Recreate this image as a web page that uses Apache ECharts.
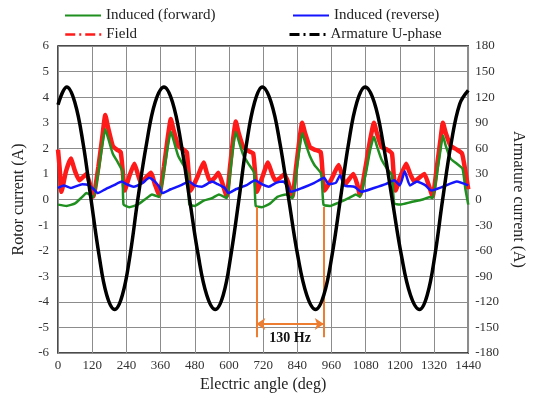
<!DOCTYPE html>
<html>
<head>
<meta charset="utf-8">
<script src="https://cdn.jsdelivr.net/npm/echarts@6/dist/echarts.min.js"></script>
<style>
  html, body { margin: 0; padding: 0; background: #fff; }
  #chart { width: 534px; height: 400px; }
</style>
</head>
<body>
<div id="chart"></div>
<script>
// [electric angle (deg), rotor current (A)]
var fieldCurrent = [
  [0,1.95],[6,1.2],[12,0.3],[28,1.1],[45,1.6],[60,1.1],[75,0.75],[100,1.0],[112,0.6],[124,0.12],[142,1.3],[155,2.4],[166,3.3],
  [176,2.8],[192,2.1],[206,1.95],[220,1.85],[228,1.0],[234,0.35],[250,0.9],[268,1.4],[280,1.0],[291,0.65],[308,0.85],[326,1.05],[340,0.6],[355,0.15],[372,1.3],[385,2.4],[396,3.15],
  [406,2.7],[422,2.1],[440,1.95],[452,1.85],[459,1.0],[466,0.35],[490,0.9],[511,1.45],[522,1.05],[534,0.7],[550,0.85],[563,1.05],[578,0.6],[592,0.12],[604,1.3],[614,2.3],[624,3.05],
  [634,2.6],[650,2.05],[668,1.9],[685,1.8],[692,1.0],[698,0.3],[718,0.9],[737,1.45],[750,1.05],[762,0.75],[780,0.85],[795,1.0],[810,0.6],[823,0.12],[836,1.3],[847,2.3],[857,3.0],
  [867,2.6],[884,2.05],[900,1.95],[922,1.85],[929,1.0],[936,0.35],[960,0.8],[985,1.35],[996,1.0],[1008,0.6],[1022,0.8],[1037,1.0],[1050,0.6],[1060,0.17],[1080,1.3],[1095,2.3],[1109,3.0],
  [1119,2.6],[1136,2.05],[1155,1.95],[1172,1.8],[1178,1.0],[1185,0.35],[1200,0.85],[1222,1.4],[1236,1.0],[1251,0.7],[1268,0.85],[1286,1.0],[1300,0.6],[1315,0.12],[1330,1.3],[1342,2.3],[1351,3.0],
  [1361,2.6],[1378,2.1],[1400,1.95],[1418,1.8],[1430,1.1],[1440,0.4]
];
var inducedForward = [
  [0,-0.2],[30,-0.25],[60,-0.15],[85,0.1],[100,0.25],[124,0.1],[142,1.1],[155,2.1],[166,2.75],
  [176,2.4],[192,1.8],[210,1.45],[226,1.1],[230,-0.2],[250,-0.3],[280,-0.2],[305,0.0],[330,0.2],[355,0.1],[372,1.1],[385,2.05],[396,2.65],
  [406,2.3],[422,1.7],[440,1.35],[456,1.0],[461,-0.2],[480,-0.25],[510,-0.05],[540,0.05],[565,0.2],[592,0.05],[604,1.0],[614,2.0],[624,2.65],
  [634,2.3],[650,1.75],[668,1.4],[688,1.05],[694,-0.25],[715,-0.3],[745,-0.15],[770,0.1],[800,0.2],[823,0.05],[836,1.0],[847,1.95],[857,2.6],
  [867,2.25],[884,1.7],[900,1.35],[924,1.0],[932,-0.2],[955,-0.25],[990,-0.1],[1020,0.05],[1045,0.2],[1060,0.1],[1080,1.0],[1095,1.9],[1109,2.45],
  [1119,2.1],[1136,1.55],[1155,1.2],[1172,0.95],[1180,-0.15],[1200,-0.2],[1240,-0.1],[1280,0.0],[1305,0.1],[1315,0.05],[1330,1.0],[1342,1.9],[1351,2.5],
  [1361,2.1],[1378,1.6],[1400,1.4],[1420,1.2],[1430,0.4],[1440,-0.2]
];
var inducedReverse = [
  [0,0.45],[20,0.55],[45,0.45],[85,0.6],[110,0.55],[125,0.4],[140,0.25],[166,0.4],[195,0.55],[224,0.7],[240,0.6],[265,0.5],[297,0.65],[320,0.85],[340,0.7],[355,0.5],[366,0.25],
  [396,0.4],[430,0.55],[460,0.7],[480,0.55],[505,0.5],[540,0.7],[560,0.6],[585,0.45],[598,0.25],
  [624,0.4],[660,0.55],[692,0.75],[715,0.6],[740,0.5],[765,0.65],[790,0.7],[805,0.55],[817,0.3],
  [857,0.45],[900,0.65],[934,0.85],[950,0.6],[975,0.65],[990,0.95],[1005,0.55],[1040,0.5],[1065,0.3],
  [1109,0.45],[1150,0.6],[1180,0.75],[1200,0.55],[1217,1.1],[1235,0.55],[1260,0.7],[1290,0.55],[1310,0.35],
  [1351,0.5],[1400,0.7],[1440,0.55]
];
// [electric angle (deg), armature current (A)]
var armatureU = [
  [0,111],[31,132],[59,114],[88,66],[116,0],[144,-65],[171,-112],[199,-129],[226,-112],[253,-65],[280,0],
  [311,66],[341,114],[372,132],[402,114],[432,66],[462,0],[492,-65],[522,-112],[552,-129],[580,-112],[607,-65],[635,0],
  [662,66],[690,114],[717,132],[748,114],[779,66],[810,0],[841,-65],[873,-112],[904,-129],[933,-112],[962,-65],[991,0],
  [1020,66],[1049,114],[1078,132],[1110,114],[1141,66],[1173,0],[1205,-65],[1237,-112],[1269,-129],[1296,-112],[1323,-65],[1350,0],
  [1380,66],[1410,112],[1440,128]
];

// 130 Hz marker
var hzStart = 696, hzEnd = 933;
var hzTop = -0.29, hzBottom = -5.38, hzArrowY = -4.87, hzTextY = -5.42;

var serif = '"Liberation Serif", "Times New Roman", serif';
var orange = '#ED7D31';

var chart = echarts.init(document.getElementById('chart'));

var legendText = { fontFamily: serif, fontSize: 15, color: '#222' };
var noSymbol = { color: 'rgba(0,0,0,0)', borderColor: 'rgba(0,0,0,0)', borderWidth: 0 };
var plainLabel = function (v) { return String(v); };

var option = {
    backgroundColor: '#fff',
    animation: false,
    grid: {
        left: 58, right: 61, top: 46, bottom: 47,
        show: true, borderColor: '#111', borderWidth: 1.5
    },
    legend: [
        { data: ['Induced (forward)'], left: 64, top: 8, padding: 0, itemWidth: 36, itemHeight: 10, textStyle: legendText,
          itemStyle: noSymbol, lineStyle: { width: 2 } },
        { data: ['Induced (reverse)'], left: 292, top: 8, padding: 0, itemWidth: 36, itemHeight: 10, textStyle: legendText,
          itemStyle: noSymbol, lineStyle: { width: 2 } },
        { data: ['Field'], left: 64, top: 27, padding: 0, itemWidth: 36, itemHeight: 10, textStyle: legendText,
          itemStyle: noSymbol, lineStyle: { width: 2.5, type: [10, 4, 2, 4] } },
        { data: ['Armature U-phase'], left: 288, top: 27, padding: 0, itemWidth: 36, itemHeight: 10, textStyle: legendText,
          itemStyle: noSymbol, lineStyle: { width: 3, type: [10, 4, 2, 4] } }
    ],
    xAxis: {
        type: 'value', min: 0, max: 1440, interval: 120,
        name: 'Electric angle (deg)', nameLocation: 'middle', nameGap: 21,
        nameTextStyle: { fontFamily: serif, fontSize: 16, color: '#222' },
        axisLine: { show: false }, axisTick: { show: false },
        axisLabel: { margin: 6, fontFamily: serif, fontSize: 13, color: '#333', formatter: plainLabel },
        splitLine: { lineStyle: { color: '#8c8c8c', width: 1 } }
    },
    yAxis: [
        {
            type: 'value', min: -6, max: 6, interval: 1,
            name: 'Rotor current (A)', nameLocation: 'middle', nameGap: 28,
            nameTextStyle: { fontFamily: serif, fontSize: 16, color: '#222' },
            axisLine: { show: false }, axisTick: { show: false },
            axisLabel: { margin: 9, fontFamily: serif, fontSize: 13, color: '#333' },
            splitLine: { lineStyle: { color: '#8c8c8c', width: 1 } }
        },
        {
            type: 'value', min: -180, max: 180, interval: 30, position: 'right',
            name: 'Armature current (A)', nameLocation: 'middle', nameGap: 36, nameRotate: -90,
            nameTextStyle: { fontFamily: serif, fontSize: 16, color: '#222' },
            axisLine: { show: false }, axisTick: { show: false },
            axisLabel: { margin: 7, fontFamily: serif, fontSize: 13, color: '#333' },
            splitLine: { show: false }
        }
    ],
    series: [
        {
            name: 'Field', type: 'line', data: fieldCurrent, symbol: 'none', smooth: 0.15,
            lineStyle: { color: '#ff1a1a', width: 4.5 }, itemStyle: { color: '#ff1a1a' }, z: 2
        },
        {
            name: 'Induced (forward)', type: 'line', data: inducedForward, symbol: 'none', smooth: 0.15,
            lineStyle: { color: '#1f8f1f', width: 2.5 }, itemStyle: { color: '#1f8f1f' }, z: 3,
            markLine: {
                silent: true, symbol: ['none', 'none'], symbolSize: 9,
                label: { show: false },
                lineStyle: { color: orange, width: 2, type: 'solid' },
                data: [
                    [{ coord: [hzStart, hzTop] }, { coord: [hzStart, hzBottom] }],
                    [{ coord: [hzEnd, hzTop] }, { coord: [hzEnd, hzBottom] }],
                    [{ coord: [hzStart, hzArrowY], symbol: 'arrow' }, { coord: [hzEnd, hzArrowY], symbol: 'arrow' }]
                ]
            },
            markPoint: {
                silent: true, symbol: 'circle', symbolSize: 1,
                itemStyle: { color: 'rgba(0,0,0,0)' },
                label: { show: true, position: 'inside', formatter: '130 Hz',
                         fontFamily: serif, fontSize: 14, fontWeight: 'bold', color: '#111' },
                data: [{ coord: [(hzStart + hzEnd) / 2, hzTextY] }]
            }
        },
        {
            name: 'Induced (reverse)', type: 'line', data: inducedReverse, symbol: 'none', smooth: 0.15,
            lineStyle: { color: '#1414ff', width: 2.5 }, itemStyle: { color: '#1414ff' }, z: 4
        },
        {
            name: 'Armature U-phase', type: 'line', yAxisIndex: 1, data: armatureU, symbol: 'none', smooth: 0.4,
            lineStyle: { color: '#000', width: 3.5 }, itemStyle: { color: '#000' }, z: 5
        }
    ]
};

chart.setOption(option);
</script>
</body>
</html>
